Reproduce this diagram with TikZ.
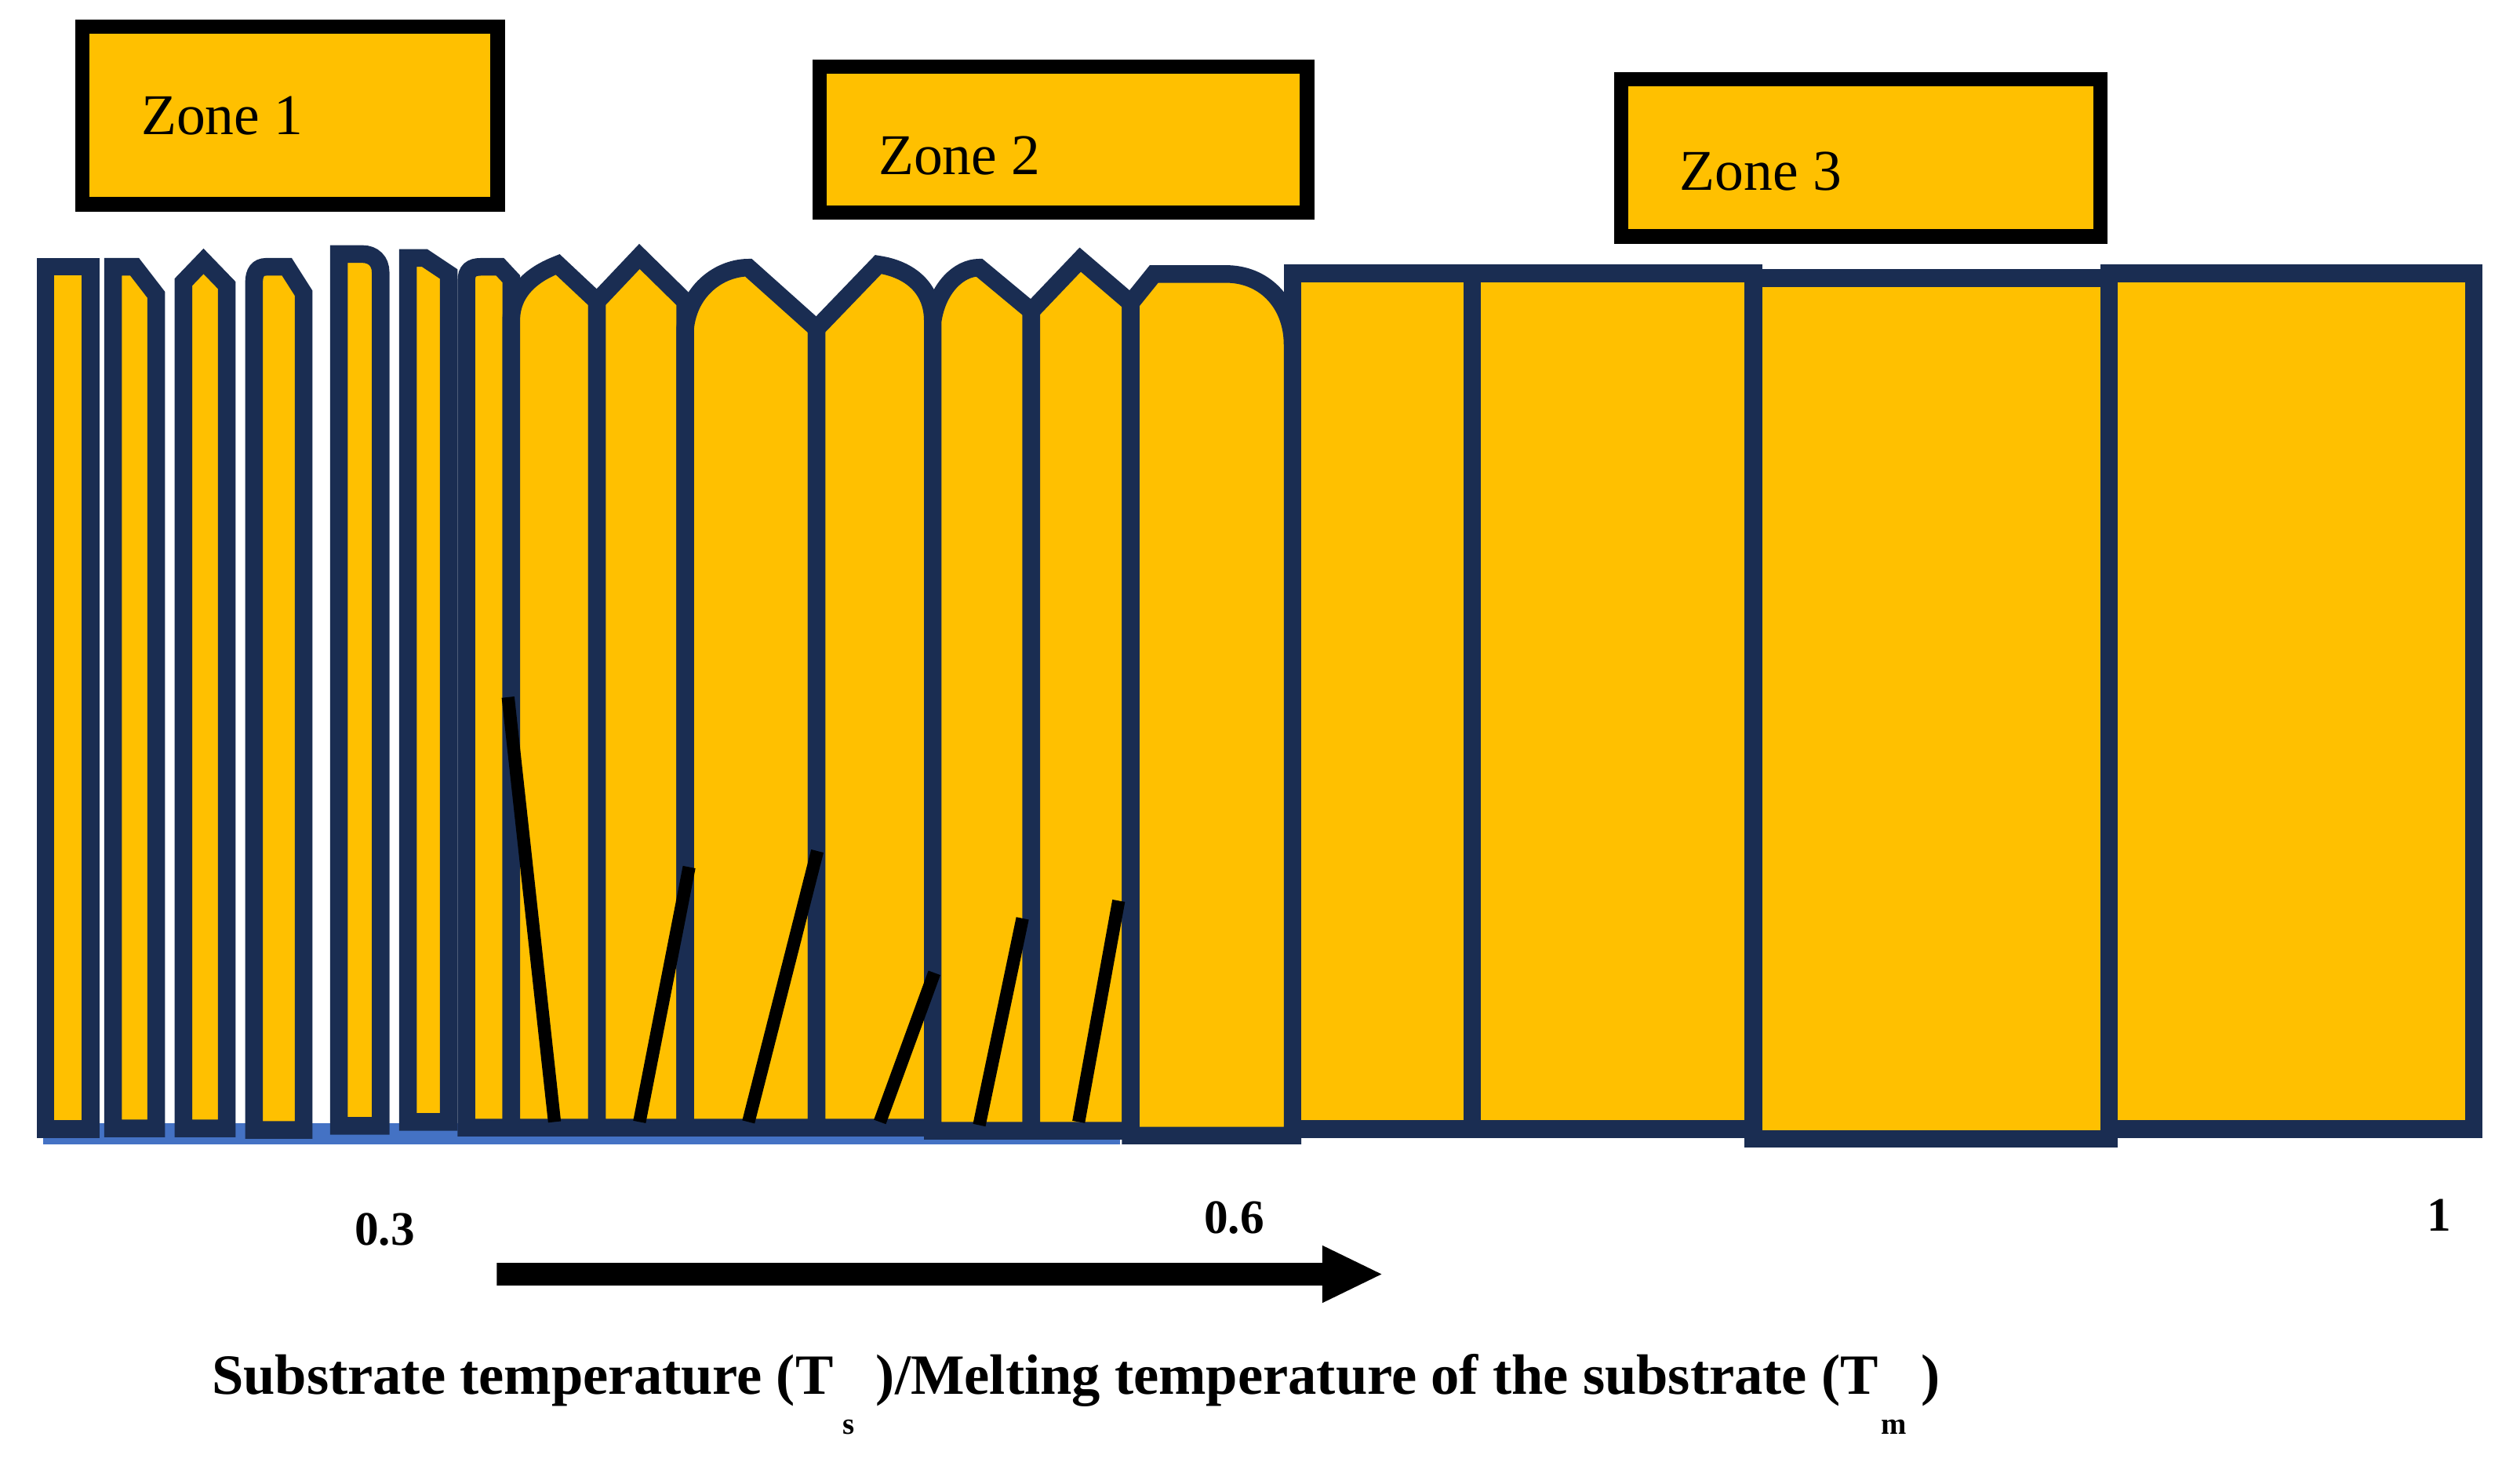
\documentclass[tikz,border=0pt]{standalone}
\usepackage{fontspec}
\setmainfont{Liberation Serif}
\definecolor{gold}{HTML}{FFC000}
\definecolor{navy}{HTML}{1A2D52}
\definecolor{lblue}{HTML}{4472C4}
\begin{document}
\begin{tikzpicture}[x=1pt,y=-1pt,
  grain/.style={fill=gold,draw=navy,line width=11pt,line join=miter},
  zonebox/.style={fill=gold,draw=black,line width=9pt},
  zonetxt/.style={anchor=west,font=\fontsize{36}{40}\selectfont,inner sep=0pt},
  numtxt/.style={font=\bfseries\fontsize{30}{32}\selectfont,inner sep=0pt},
  twin/.style={draw=black,line width=8pt}]
\useasboundingbox (0,0) rectangle (1568,925.6);
% blue base line
\fill[lblue] (27,701) rectangle (699,714);
% left columnar grains
\draw[grain] (28.5,704.5)--(28.5,166.5)--(56.5,166.5)--(56.5,704.5)--cycle;
\draw[grain] (70.5,704)--(70.5,166.5)--(84,166.5)--(97.5,184)--(97.5,704)--cycle;
\draw[grain] (114.5,704)--(114.5,176)--(127,163)--(141.5,178)--(141.5,704)--cycle;
\draw[grain] (158.5,705)--(158.5,176) .. controls (158.5,170) and (161,166.5) .. (166,166.5)--(179,166.5)--(189.5,183)--(189.5,705)--cycle;
\draw[grain] (211.5,702.5)--(211.5,158.5)--(226,158.5) .. controls (233,158.5) and (237.5,163) .. (237.5,170)--(237.5,702.5)--cycle;
\draw[grain] (254.5,700)--(254.5,161)--(265,161)--(280,171)--(280,700)--cycle;
\draw[grain] (291,703.5)--(291,175) .. controls (291,169) and (294,166.5) .. (300,166.5)--(312,166.5)--(319,174)--(319,703.5)--cycle;
% arched grains
\draw[grain] (319,703.5)--(319,200) .. controls (319,180) and (335,170) .. (348,165)--(372.5,188)--(372.5,703.5)--cycle;
\draw[grain] (372.5,703.5)--(372.5,188)--(399,160)--(427.5,188)--(427.5,703.5)--cycle;
\draw[grain] (427.5,703.5)--(427.5,205) .. controls (430,180) and (450,167) .. (467,167)--(509.5,205)--(509.5,703.5)--cycle;
\draw[grain] (509.5,703.5)--(509.5,205)--(548,165) .. controls (568,168) and (582,180) .. (582,200)--(582,703.5)--cycle;
\draw[grain] (582,705.5)--(582,200) .. controls (585,180) and (598,167) .. (611,167)--(643.5,194)--(643.5,705.5)--cycle;
\draw[grain] (643.5,705.5)--(643.5,194)--(674,162)--(705.5,189)--(705.5,705.5)--cycle;
\draw[grain] (705.5,708.5)--(705.5,189)--(720,171)--(767,171) .. controls (790,172) and (806.5,190) .. (806.5,215)--(806.5,708.5)--cycle;
% equiaxed grains
\draw[grain] (806.5,704.5) rectangle (918.5,170.5);
\draw[grain] (918.5,704.5) rectangle (1094,170.5);
\draw[grain] (1094,710.5) rectangle (1316,173.5);
\draw[grain] (1316,704.5) rectangle (1543.5,170.5);
% twin boundaries
\draw[twin] (317,435)--(346,700);
\draw[twin] (430,541)--(399,700);
\draw[twin] (510,531)--(467,700);
\draw[twin] (583,607)--(549,700);
\draw[twin] (638,573)--(611,702);
\draw[twin] (698,562)--(673,700);
% zone labels
\draw[zonebox] (51.5,16.5) rectangle (310.5,127.5);
\node[zonetxt] (z1) at (88,72) {Zone 1};
\draw[zonebox] (511.5,41.5) rectangle (815.5,132.5);
\node[zonetxt] (z2) at (548,97) {Zone 2};
\draw[zonebox] (1011.5,49.5) rectangle (1310.5,147.5);
\node[zonetxt] (z3) at (1048,107) {Zone 3};
% axis numbers
\node[numtxt] (n3) at (240,767) {0.3};
\node[numtxt] (n6) at (770,760) {0.6};
\node[numtxt] (n1) at (1522,758) {1};
% arrow
\fill[black] (310,788)--(825,788)--(825,777)--(862,795)--(825,813)--(825,802)--(310,802)--cycle;
% caption
\node[anchor=base west,inner sep=0pt,font=\bfseries\fontsize{35.5}{38}\selectfont] (cap) at (132,870)
 {Substrate temperature (T\rlap{\raisebox{-0.7em}{\fontsize{19}{20}\selectfont\hspace{0.3em}s}}\hspace{0.75em})/Melting temperature of the substrate (T\rlap{\raisebox{-0.7em}{\fontsize{19}{20}\selectfont\hspace{0.1em}m}}\hspace{0.75em})};
\end{tikzpicture}
\end{document}
